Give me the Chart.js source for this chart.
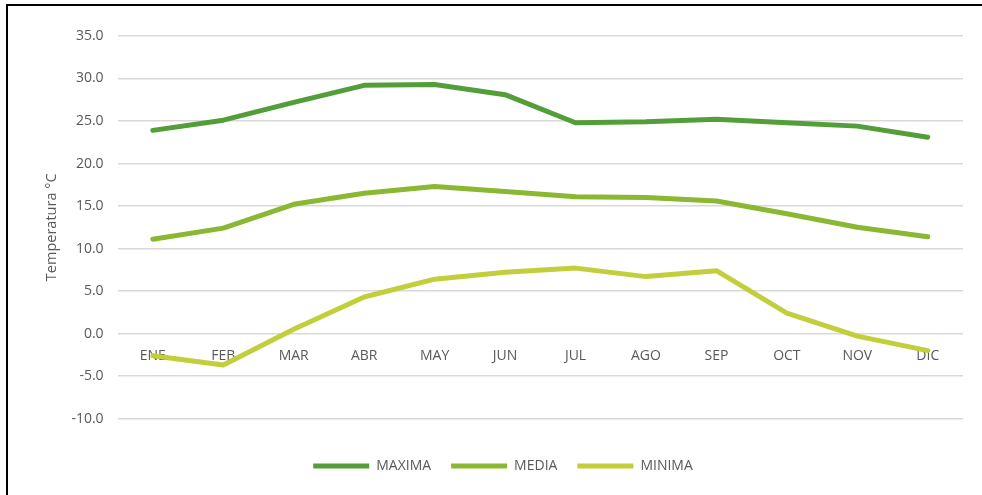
<!DOCTYPE html>
<html>
<head>
<meta charset="utf-8">
<script src="https://cdn.jsdelivr.net/npm/chart.js@4/dist/chart.umd.min.js"></script>
<style>
  html, body { margin: 0; padding: 0; background: #fff; overflow: hidden; }
  #marco {
    position: absolute; left: 6px; top: 4px; width: 1000px; height: 520px;
    border-top: 2px solid #000; border-left: 2px solid #000;
  }
  #lienzo { position: absolute; left: 0; top: 0; width: 982px; height: 495px; }
</style>
</head>
<body>
<div id="marco"></div>
<div id="lienzo"><canvas id="grafica" width="982" height="495"></canvas></div>
<script>
// Datos
var meses = ["ENE", "FEB", "MAR", "ABR", "MAY", "JUN", "JUL", "AGO", "SEP", "OCT", "NOV", "DIC"];
var maxima = [23.9, 25.1, 27.2, 29.2, 29.3, 28.1, 24.8, 24.9, 25.2, 24.8, 24.4, 23.1];
var media = [11.1, 12.4, 15.2, 16.5, 17.3, 16.7, 16.1, 16.0, 15.6, 14.1, 12.5, 11.4];
var minima = [-2.6, -3.7, 0.5, 4.3, 6.4, 7.2, 7.7, 6.7, 7.4, 2.4, -0.3, -2.0];

var gris = "#595959";
var fuente = "'Open Sans', 'Liberation Sans', sans-serif";

function serie(nombre, datos, color) {
    return {
        label: nombre,
        data: datos,
        borderColor: color,
        backgroundColor: color,
        borderWidth: 5,
        borderCapStyle: "round",
        borderJoinStyle: "round",
        pointRadius: 0,
        pointHoverRadius: 0,
        fill: false,
        tension: 0
    };
}

var ctx = document.getElementById("grafica").getContext("2d");
var grafica = new Chart(ctx, {
    type: "line",
    data: {
        labels: meses,
        datasets: [
            serie("MAXIMA", maxima, "#549E39"),
            serie("MEDIA", media, "#8AB833"),
            serie("MINIMA", minima, "#C0CF3A")
        ]
    },
    options: {
        responsive: false,
        animation: false,
        layout: { padding: { left: 43, right: 19, top: 36, bottom: 12 } },
        plugins: {
            tooltip: { enabled: false },
            legend: {
                position: "bottom",
                // titulo vacio solo para separar la leyenda del area del grafico
                title: { display: true, text: "", padding: { top: 0, bottom: 6 }, font: { size: 12 } },
                labels: {
                    usePointStyle: true,
                    pointStyle: "line",
                    pointStyleWidth: 56,
                    color: gris,
                    padding: 20,
                    font: { family: fuente, size: 14 }
                }
            }
        },
        scales: {
            x: {
                position: { y: 0 },
                offset: true,
                grid: { display: false, drawTicks: false },
                border: { display: false },
                ticks: { color: gris, padding: 14, font: { family: fuente, size: 14 } }
            },
            y: {
                min: -10,
                max: 35,
                ticks: {
                    stepSize: 5,
                    color: gris,
                    padding: 14,
                    font: { family: fuente, size: 14 },
                    callback: function (v) { return v.toFixed(1); }
                },
                grid: { color: "#D9D9D9", lineWidth: 1.5, drawTicks: false },
                border: { display: false },
                title: {
                    display: true,
                    text: "Temperatura °C",
                    color: gris,
                    padding: { top: 0, bottom: -3 },
                    font: { family: fuente, size: 14.5 }
                }
            }
        }
    }
});
</script>
</body>
</html>
